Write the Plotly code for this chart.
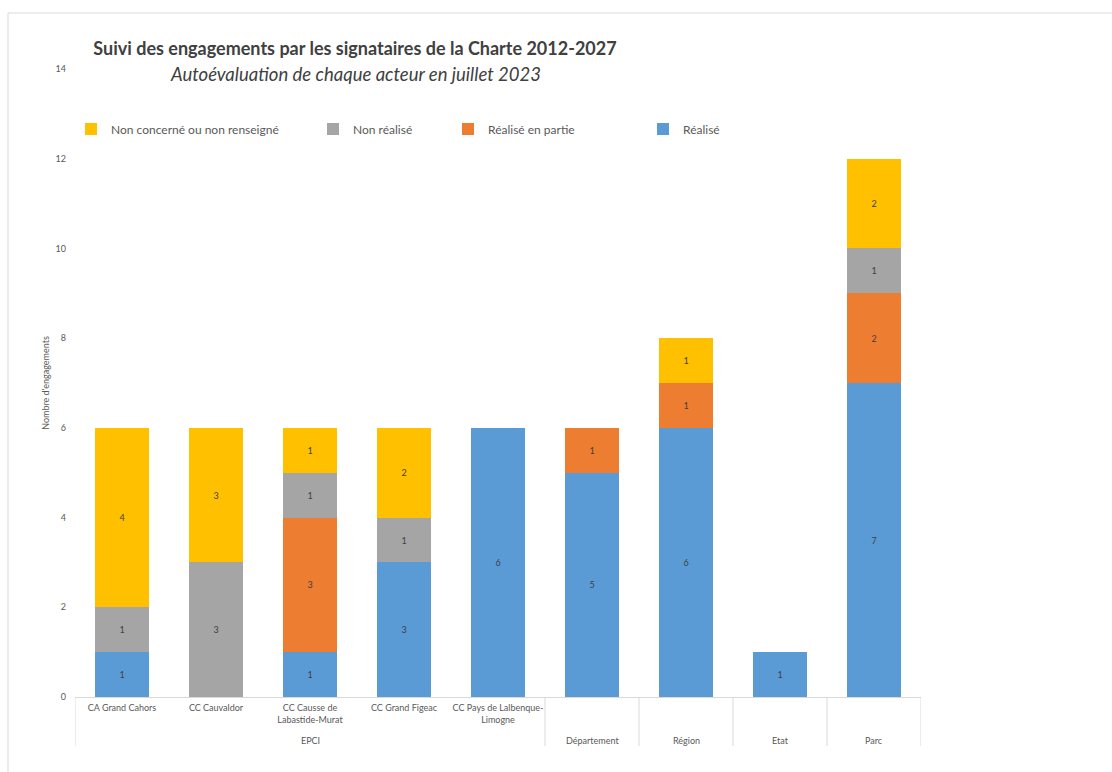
import plotly.graph_objects as go

# Signataires (catégories) et groupes
categories = [
    "CA Grand Cahors", "CC Cauvaldor", "CC Causse de Labastide-Murat",
    "CC Grand Figeac", "CC Pays de Lalbenque-Limogne",
    "Département", "Région", "Etat", "Parc",
]
tick_labels = [
    "CA Grand Cahors", "CC Cauvaldor", "CC Causse de<br>Labastide-Murat",
    "CC Grand Figeac", "CC Pays de Lalbenque-<br>Limogne",
    "", "", "", "",
]
groups = ["EPCI", "Département", "Région", "Etat", "Parc"]
group_spans = [(0, 4), (5, 5), (6, 6), (7, 7), (8, 8)]

# Nombre d'engagements par statut
realise = [1, 0, 1, 3, 6, 5, 6, 1, 7]
realise_partie = [0, 0, 3, 0, 0, 1, 1, 0, 2]
non_realise = [1, 3, 1, 1, 0, 0, 0, 0, 1]
non_concerne = [4, 3, 1, 2, 0, 0, 1, 0, 2]

series = [
    ("Réalisé", realise, "#5B9BD5"),
    ("Réalisé en partie", realise_partie, "#ED7D31"),
    ("Non réalisé", non_realise, "#A5A5A5"),
    ("Non concerné ou non renseigné", non_concerne, "#FFC000"),
]

FONT = "Lato"
TXT = "#595959"
W, H = 1112, 772
L, R, T, B = 75, 191, 69, 75
PW, PH = W - L - R, H - T - B

# Position (px) of each legend entry's text start
legend_text_x = {"Non concerné ou non renseigné": 111, "Non réalisé": 353,
                 "Réalisé en partie": 488, "Réalisé": 683}
legend_ids = {"Réalisé": "legend", "Réalisé en partie": "legend2",
              "Non réalisé": "legend3", "Non concerné ou non renseigné": "legend4"}

fig = go.Figure()
for name, vals, color in series:
    fig.add_trace(go.Bar(
        x=categories, y=vals, name=name, marker_color=color,
        marker_line_width=0, showlegend=True,
        text=[str(v) if v else "" for v in vals],
        textposition="inside", insidetextanchor="middle", textangle=0,
        constraintext="none",
        textfont=dict(family=FONT, size=9, color="#404040"),
        legend=legend_ids[name], hoverinfo="x+y+name",
    ))

legend_layout = {}
for name, lid in legend_ids.items():
    legend_layout[lid] = dict(
        xref="container", yref="container",
        x=(legend_text_x[name] - 40) / W, xanchor="left",
        y=1 - 129 / H, yanchor="middle",
        orientation="h", bgcolor="rgba(0,0,0,0)",
        font=dict(family=FONT, size=12, color=TXT),
    )

shapes = []
# Frame around the chart
shapes.append(dict(type="rect", xref="paper", yref="paper",
                   x0=(8 - L) / PW, x1=1.5,
                   y0=-1, y1=(H - B - 13) / PH,
                   line=dict(color="#D9D9D9", width=1), layer="below"))
# Group separators below the category axis
for x in [-0.5, 4.5, 5.5, 6.5, 7.5, 8.5]:
    shapes.append(dict(type="line", xref="x", yref="paper", x0=x, x1=x,
                       y0=0, y1=-(746 - (H - B)) / PH,
                       line=dict(color="#D9D9D9", width=1)))

annotations = []
for g, (a, b) in zip(groups, group_spans):
    annotations.append(dict(text=g, xref="x", yref="paper", x=(a + b) / 2,
                            y=-(740 - (H - B)) / PH, showarrow=False,
                            xanchor="center", yanchor="middle",
                            font=dict(family=FONT, size=9, color=TXT)))
annotations.append(dict(text="<i>Autoévaluation de chaque acteur en juillet 2023</i>",
                        xref="paper", yref="paper", x=(355 - L) / PW,
                        y=(H - B - 74) / PH, showarrow=False,
                        xanchor="center", yanchor="middle",
                        font=dict(family=FONT, size=18.5, color="#404040")))

fig.update_layout(
    width=W, height=H,
    margin=dict(l=L, r=R, t=T, b=B, autoexpand=False),
    paper_bgcolor="white", plot_bgcolor="white",
    showlegend=True,
    barmode="stack", bargap=0.426,
    font=dict(family=FONT, color=TXT),
    title=dict(text="<b>Suivi des engagements par les signataires de la Charte 2012-2027</b>",
               xref="container", yref="container", x=355 / W,
               y=1 - 49 / H, xanchor="center", yanchor="middle",
               font=dict(family=FONT, size=18, color="#404040")),
    xaxis=dict(type="category", range=[-0.5, 8.5], tickmode="array",
               tickvals=categories, ticktext=tick_labels,
               tickfont=dict(family=FONT, size=9, color=TXT),
               showline=True, linecolor="#D9D9D9", linewidth=1,
               showgrid=False, ticks="", ticklabelstandoff=2, automargin=False),
    yaxis=dict(range=[0, 14], dtick=2, showgrid=False, showline=False,
               zeroline=False, ticks="", ticklabelstandoff=8,
               tickfont=dict(family=FONT, size=9, color=TXT),
               title=dict(text="Nombre d'engagements", standoff=4,
                          font=dict(family=FONT, size=9, color=TXT)),
               automargin=False),
    shapes=shapes, annotations=annotations,
    **legend_layout,
)

fig.write_html("out.html")
